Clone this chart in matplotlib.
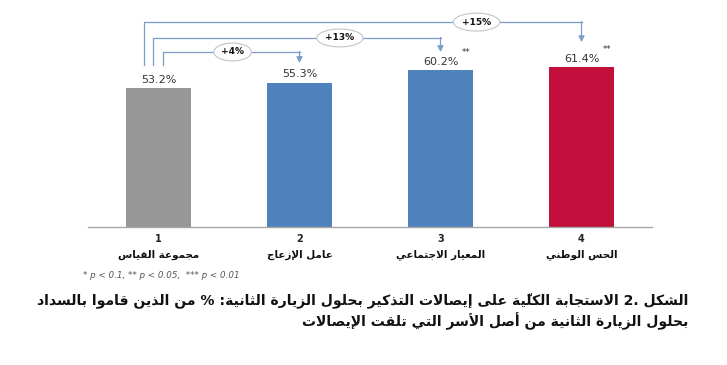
import matplotlib
matplotlib.use("Agg")
import matplotlib.pyplot as plt

# data
numbers = ["1", "2", "3", "4"]
labels = ["مجموعة القياس", "عامل الإزعاج", "المعيار الاجتماعي", "الحس الوطني"]
values = [53.2, 55.3, 60.2, 61.4]
stars = ["", "", "**", "**"]
diff_labels = ["+4%", "+13%", "+15%"]
diff_targets = [1, 2, 3]
title_lines = [
    "الشكل 2. الاستجابة الكليّة على إيصالات التذكير بحلول الزيارة الثانية: % من الذين قاموا بالسداد",
    "بحلول الزيارة الثانية من أصل الأسر التي تلقت الإيصالات",
]
footnote = "* p < 0.1, ** p < 0.05,  *** p < 0.01"

bar_colors = ["#979797", "#4F81BD", "#4F81BD", "#C20E3A"]
line_col = "#7C9CCB"

# --- minimal arabic shaping (matplotlib has no complex text layout) ---
FORMS = {
    "\u0621": (0xFE80, 1), "\u0622": (0xFE81, 2), "\u0623": (0xFE83, 2),
    "\u0624": (0xFE85, 2), "\u0625": (0xFE87, 2), "\u0626": (0xFE89, 4),
    "\u0627": (0xFE8D, 2), "\u0628": (0xFE8F, 4), "\u0629": (0xFE93, 2),
    "\u062A": (0xFE95, 4), "\u062B": (0xFE99, 4), "\u062C": (0xFE9D, 4),
    "\u062D": (0xFEA1, 4), "\u062E": (0xFEA5, 4), "\u062F": (0xFEA9, 2),
    "\u0630": (0xFEAB, 2), "\u0631": (0xFEAD, 2), "\u0632": (0xFEAF, 2),
    "\u0633": (0xFEB1, 4), "\u0634": (0xFEB5, 4), "\u0635": (0xFEB9, 4),
    "\u0636": (0xFEBD, 4), "\u0637": (0xFEC1, 4), "\u0638": (0xFEC5, 4),
    "\u0639": (0xFEC9, 4), "\u063A": (0xFECD, 4), "\u0641": (0xFED1, 4),
    "\u0642": (0xFED5, 4), "\u0643": (0xFED9, 4), "\u0644": (0xFEDD, 4),
    "\u0645": (0xFEE1, 4), "\u0646": (0xFEE5, 4), "\u0647": (0xFEE9, 4),
    "\u0648": (0xFEED, 2), "\u0649": (0xFEEF, 2), "\u064A": (0xFEF1, 4),
}
LAM_ALEF = {"\u0622": 0xFEF5, "\u0623": 0xFEF7, "\u0625": 0xFEF9, "\u0627": 0xFEFB}


def is_mark(c):
    return "\u064B" <= c <= "\u0652"


def shape(s):
    n = len(s)
    out = []
    i = 0
    while i < n:
        c = s[i]
        if is_mark(c) and out:
            out[-1] += c
            i += 1
            continue
        if c not in FORMS:
            out.append(c)
            i += 1
            continue
        j = i - 1
        while j >= 0 and is_mark(s[j]):
            j -= 1
        prev = s[j] if j >= 0 else None
        k = i + 1
        while k < n and is_mark(s[k]):
            k += 1
        nxt = s[k] if k < n else None
        start, nf = FORMS[c]
        jp = prev in FORMS and FORMS[prev][1] == 4 and nf > 1
        if c == "\u0644" and nxt in LAM_ALEF:
            out.append(chr(LAM_ALEF[nxt] + (1 if jp else 0)) + s[i + 1:k])
            i = k + 1
            continue
        jn = nf == 4 and nxt in FORMS and FORMS[nxt][1] > 1
        form = 3 if (jp and jn) else 1 if jp else 2 if jn else 0
        out.append(chr(start + form))
        i += 1
    return out


def ar(s):
    cl = shape(s)
    runs = []
    for c in cl:
        ltr = c[0].isascii() and (c[0].isalnum() or (c == "." and bool(runs) and runs[-1][0]))
        if runs and runs[-1][0] == ltr:
            runs[-1][1].append(c)
        else:
            runs.append([ltr, [c]])
    res = ""
    for ltr, r in reversed(runs):
        res += "".join(r if ltr else reversed(r))
    return res


W, H = 727, 365
fig = plt.figure(figsize=(W / 100, H / 100), dpi=100)
base_px = 226.7
ax = fig.add_axes([88 / W, 1 - base_px / H, 564 / W, base_px / H])

x = list(range(len(values)))
ax.bar(x, values, width=0.46, color=bar_colors, zorder=2)
ax.set_xlim(-0.5, 3.5)
ax.set_ylim(0, 87.2)
for s in ["top", "left", "right"]:
    ax.spines[s].set_visible(False)
ax.spines["bottom"].set_color("#A6A6A6")
ax.spines["bottom"].set_linewidth(1.0)
ax.set_xticks([])
ax.set_yticks([])

for i, v in enumerate(values):
    ax.annotate(f"{v:.1f}%", (i, v), xytext=(0, 2.5), textcoords="offset points",
                ha="center", va="bottom", fontsize=8, color="#333333")
    if stars[i]:
        ax.annotate(stars[i], (i, v), xytext=(18.5, 12.5), textcoords="offset points",
                    ha="center", va="center", fontsize=6, color="#333333")
    ax.annotate(numbers[i], (i, 0), xycoords=("data", "axes fraction"),
                xytext=(0, -9), textcoords="offset points", ha="center", va="center",
                fontsize=7, fontweight="bold", color="#222222")
    ax.annotate(ar(labels[i]), (i, 0), xycoords=("data", "axes fraction"),
                xytext=(0, -20), textcoords="offset points", ha="center", va="center",
                fontsize=7.5, fontweight="bold", color="#111111")

# comparison brackets from the control bar
left_off = [0.032, -0.039, -0.103]
top_lvl = [67.2, 72.6, 78.7]
tip_lvl = [63.0, 67.2, 71.0]
bubble_frac = [0.51, 0.65, 0.76]
start_lvl = 62.2
for k, j in enumerate(diff_targets):
    xl = 0 + left_off[k]
    xr = j
    ax.plot([xl, xl, xr], [start_lvl, top_lvl[k], top_lvl[k]], color=line_col,
            lw=0.9, clip_on=False, zorder=1)
    ax.annotate("", xy=(xr, tip_lvl[k]), xytext=(xr, top_lvl[k] + 0.2),
                arrowprops=dict(arrowstyle="-|>,head_length=0.35,head_width=0.18",
                                color=line_col, lw=0.9, shrinkA=0, shrinkB=0))
    bx = xl + bubble_frac[k] * (xr - xl)
    ax.text(bx, top_lvl[k], diff_labels[k], ha="center", va="center", fontsize=6.5,
            fontweight="bold", color="#111111", zorder=3,
            bbox=dict(boxstyle="ellipse,pad=0.2", fc="white", ec="#C4C4C4", lw=0.8))

fig.text(83 / W, 1 - 275 / H, footnote, ha="left", va="center", fontsize=6.3,
         style="italic", color="#555555")

t1 = fig.text(688 / W, 1 - 300 / H, ar(title_lines[0]), ha="right", va="center",
              fontsize=11, fontweight="bold", color="#111111")
t2 = fig.text(688 / W, 1 - 321 / H, ar(title_lines[1]), ha="right", va="center",
              fontsize=11, fontweight="bold", color="#111111")

# shrink the caption so its first line spans the same width as in the reference
r = fig.canvas.get_renderer()
w1 = t1.get_window_extent(r).width
fs = 11 * 651 / w1
t1.set_fontsize(fs)
t2.set_fontsize(fs)

fig.savefig("out.png", dpi=100)
